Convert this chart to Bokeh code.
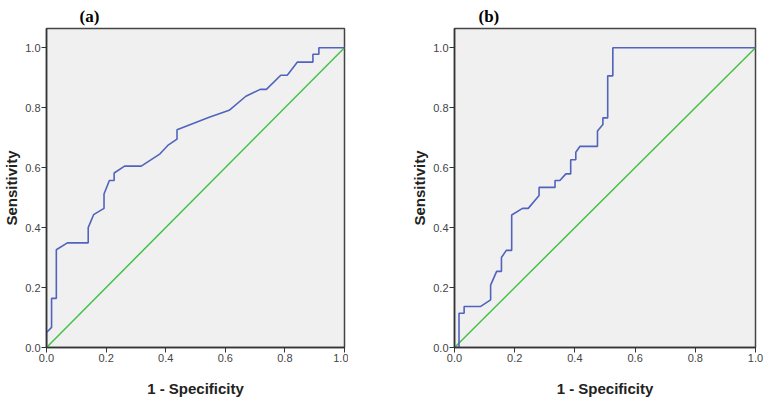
from bokeh.plotting import figure
from bokeh.layouts import row
from bokeh.models import Range1d, FixedTicker, PrintfTickFormatter
from bokeh.embed import file_html
from bokeh.resources import INLINE

ticks = [0.0, 0.2, 0.4, 0.6, 0.8, 1.0]
ref_line = [0.0, 1.0]

a_fpr = [0.0, 0.0, 0.017, 0.017, 0.033, 0.033, 0.07, 0.14, 0.14, 0.158, 0.193, 0.193,
         0.211, 0.227, 0.227, 0.262, 0.318, 0.381, 0.407, 0.438, 0.438, 0.546, 0.613,
         0.669, 0.717, 0.738, 0.786, 0.808, 0.842, 0.894, 0.894, 0.914, 0.914, 1.0]
a_tpr = [0.0, 0.05, 0.067, 0.164, 0.164, 0.326, 0.349, 0.349, 0.40, 0.443, 0.464, 0.512,
         0.557, 0.557, 0.582, 0.605, 0.605, 0.646, 0.674, 0.695, 0.726, 0.768, 0.791,
         0.838, 0.861, 0.861, 0.908, 0.908, 0.952, 0.952, 0.978, 0.978, 1.0, 1.0]

b_fpr = [0.0, 0.015, 0.015, 0.032, 0.032, 0.087, 0.12, 0.12, 0.14, 0.156, 0.156, 0.172,
         0.19, 0.19, 0.226, 0.245, 0.281, 0.281, 0.334, 0.334, 0.35, 0.37, 0.386, 0.386,
         0.403, 0.403, 0.417, 0.475, 0.475, 0.493, 0.493, 0.509, 0.509, 0.526, 0.526, 1.0]
b_tpr = [0.0, 0.0, 0.114, 0.114, 0.137, 0.137, 0.159, 0.208, 0.254, 0.254, 0.30, 0.324,
         0.324, 0.442, 0.464, 0.464, 0.507, 0.534, 0.534, 0.557, 0.557, 0.579, 0.579, 0.626,
         0.626, 0.651, 0.671, 0.671, 0.722, 0.744, 0.766, 0.766, 0.906, 0.906, 1.0, 1.0]

BLUE = "#5063bd"
GREEN = "#45c045"


def make(title, fpr, tpr, width, bl, br, toff):
    p = figure(width=width, height=400, x_range=Range1d(0, 1), y_range=Range1d(0, 1.064),
               output_backend="svg", toolbar_location=None,
               min_border_left=bl, min_border_right=br, min_border_top=28, min_border_bottom=53)
    p.background_fill_color = "#f0f0f0"
    p.border_fill_color = "white"
    p.grid.visible = False
    p.outline_line_color = "#444444"
    p.outline_line_width = 1.5
    p.line(ref_line, ref_line, color=GREEN, line_width=1.5)
    p.line(fpr, tpr, color=BLUE, line_width=1.6)

    p.title.text = title
    p.title.text_font = "Liberation Serif"
    p.title.text_font_size = "17px"
    p.title.text_font_style = "bold"
    p.title.text_color = "black"
    p.title.align = "left"
    p.title.offset = toff
    p.title.standoff = 6

    for ax in (p.xaxis[0], p.yaxis[0]):
        ax.ticker = FixedTicker(ticks=ticks)
        ax.formatter = PrintfTickFormatter(format="%.1f")
        ax.minor_tick_line_color = None
        ax.major_tick_out = 5
        ax.major_tick_in = 0
        ax.major_tick_line_color = "#333333"
        ax.axis_line_color = "#333333"
        ax.axis_line_width = 1.5
        ax.major_label_text_font = "Liberation Sans"
        ax.major_label_text_font_size = "11px"
        ax.major_label_text_color = "#444444"
        ax.major_label_standoff = 1
        ax.axis_label_text_font = "Liberation Sans"
        ax.axis_label_text_font_size = "15px"
        ax.axis_label_text_font_style = "bold"
        ax.axis_label_text_color = "#222222"
    p.yaxis.major_label_orientation = "horizontal"
    p.xaxis.axis_label = "1 - Specificity"
    p.yaxis.axis_label = "Sensitivity"
    p.xaxis.axis_label_standoff = 15
    p.yaxis.axis_label_standoff = 2
    return p


pa = make("(a)", a_fpr, a_tpr, 348, 45, 4, 33)
pb = make("(b)", b_fpr, b_tpr, 416, 106, 9, 24)

layout = row(pa, pb)
open("out.html", "w").write(file_html(layout, INLINE))
